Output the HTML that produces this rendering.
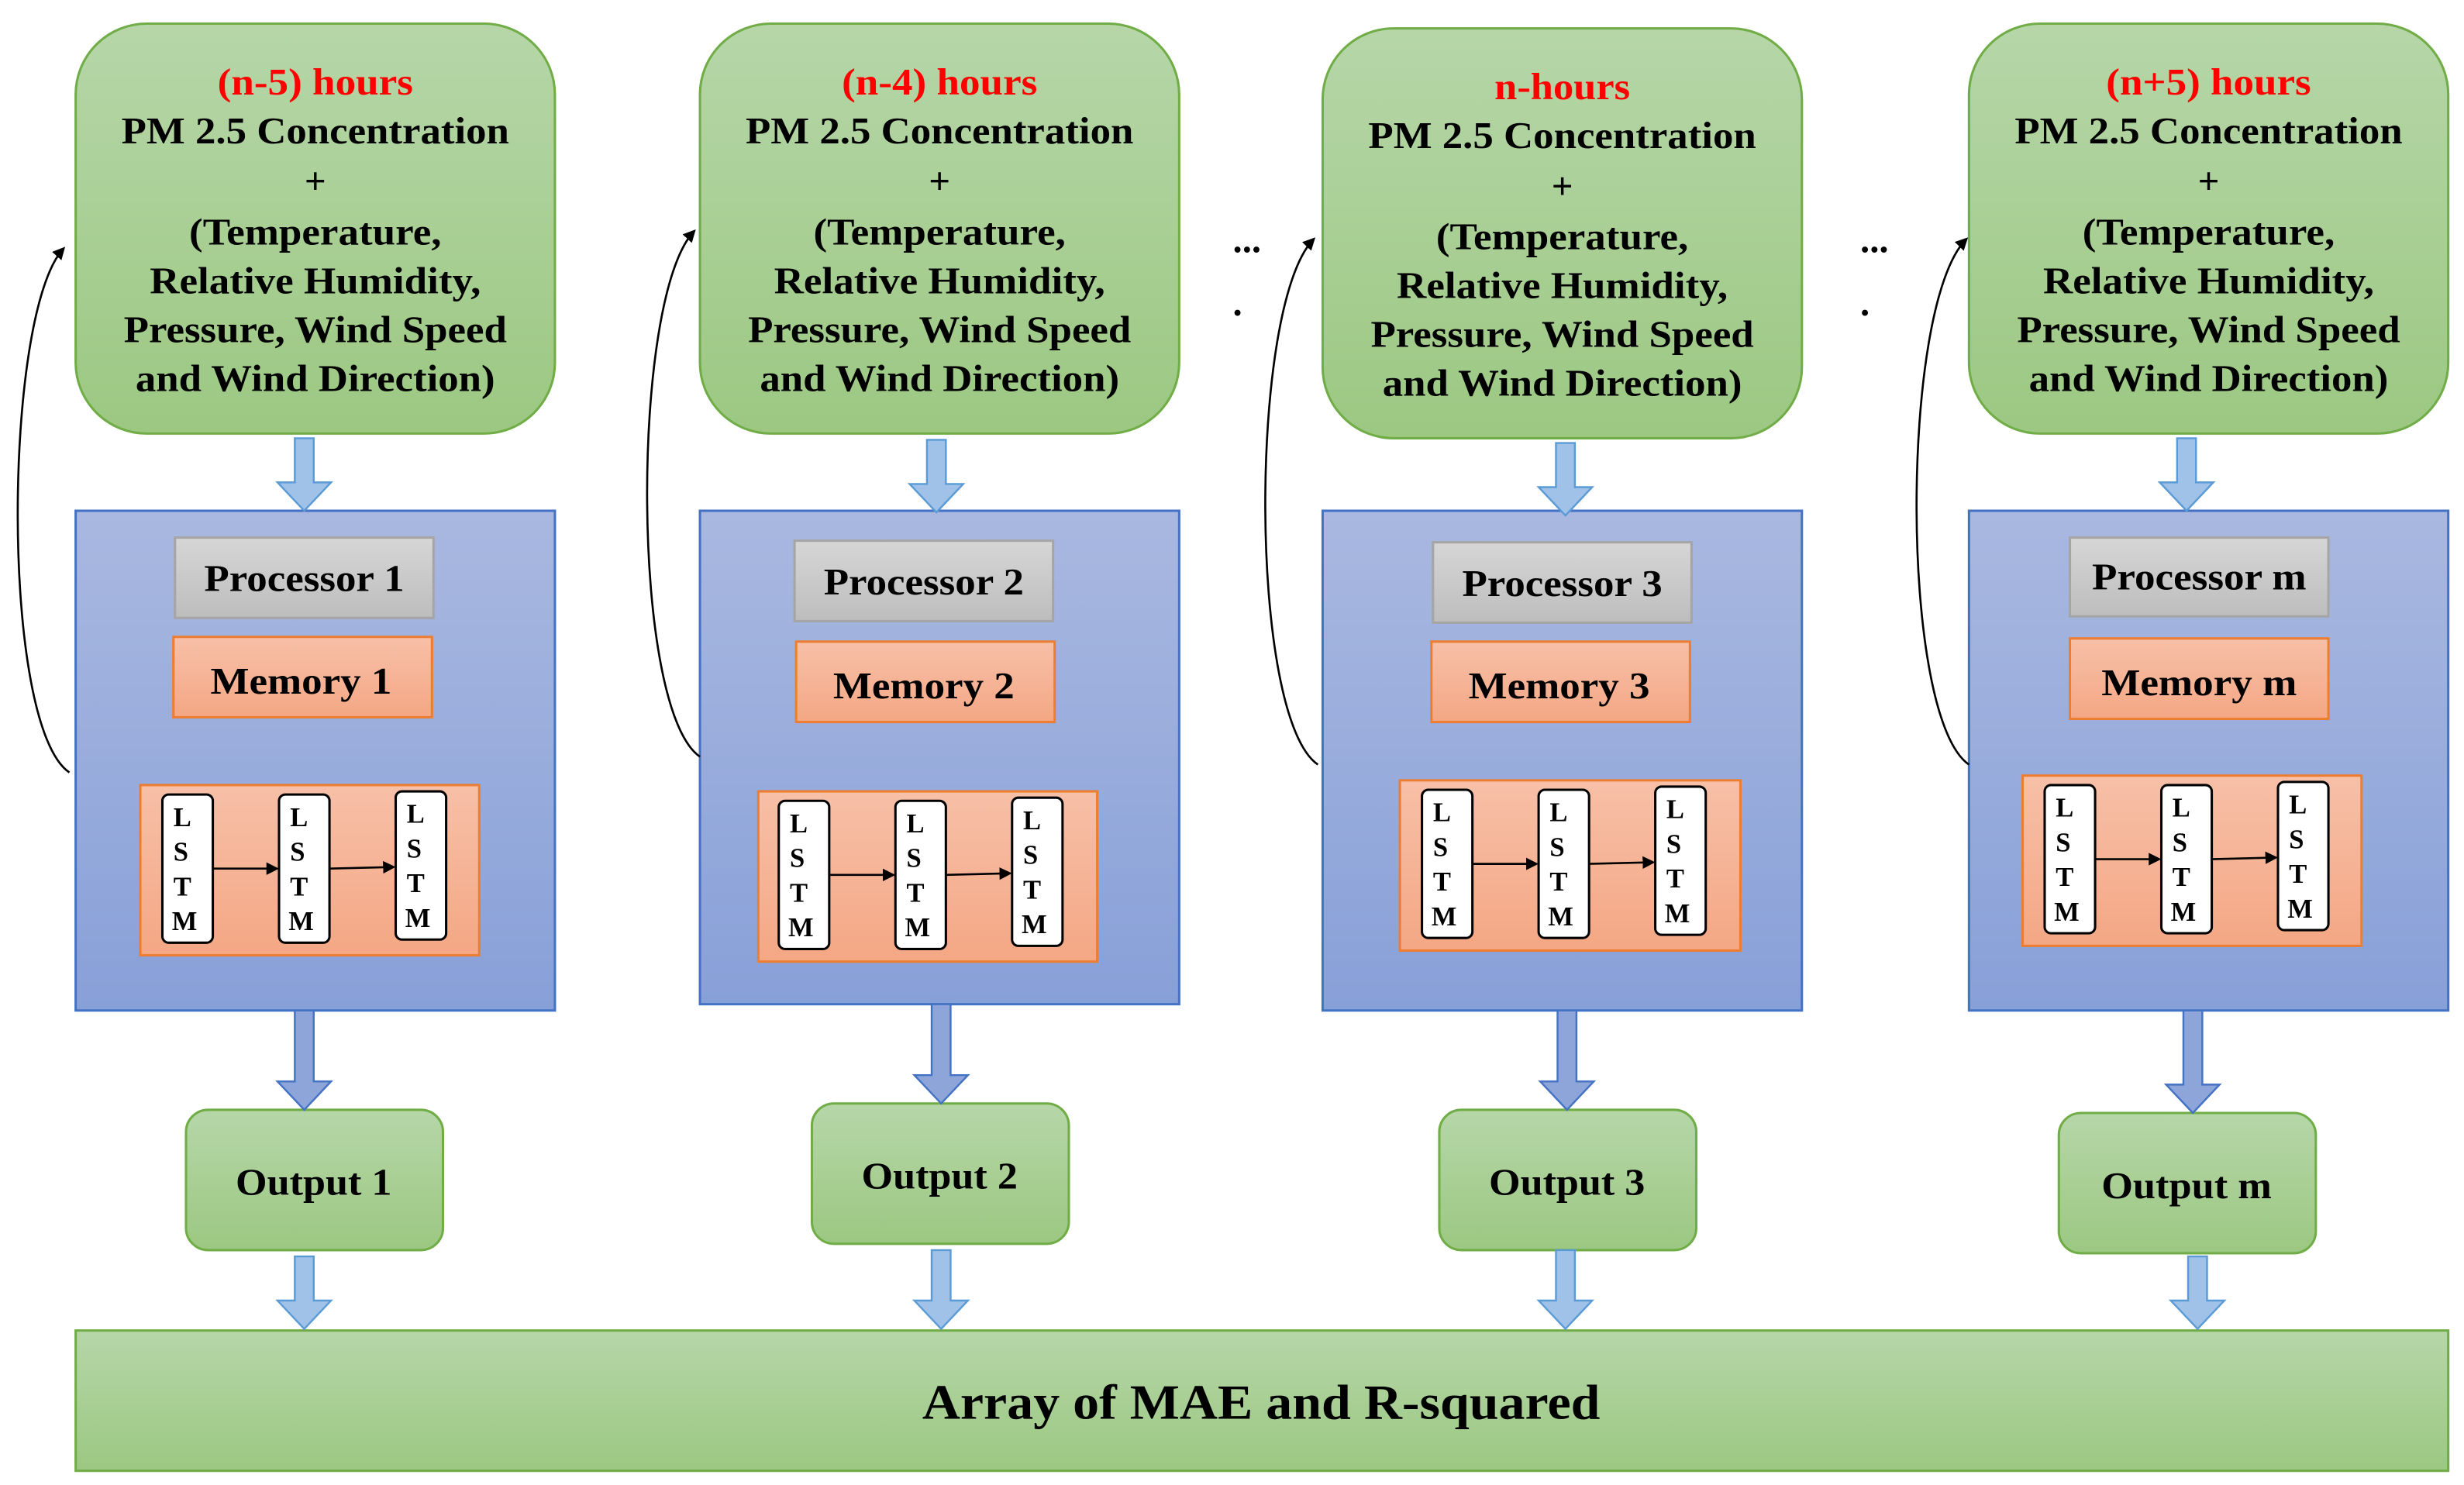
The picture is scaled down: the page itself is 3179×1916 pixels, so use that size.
<!DOCTYPE html>
<html><head><meta charset="utf-8"><style>html,body{margin:0;padding:0;background:#fff}svg{display:block}svg text{font-family:"Liberation Serif","Noto Serif CJK SC","DejaVu Serif",serif;font-weight:bold}</style></head><body>
<svg width="3179" height="1916" viewBox="0 0 1563 942" preserveAspectRatio="none" xmlns="http://www.w3.org/2000/svg" xmlns:xlink="http://www.w3.org/1999/xlink">
<defs>
<linearGradient id="g" x1="0" y1="0" x2="0" y2="1"><stop offset="0" stop-color="#b6d6a8"/><stop offset="1" stop-color="#9cc882"/></linearGradient>
<linearGradient id="b" x1="0" y1="0" x2="0" y2="1"><stop offset="0" stop-color="#a9b8e0"/><stop offset="1" stop-color="#88a0d8"/></linearGradient>
<linearGradient id="p" x1="0" y1="0" x2="0" y2="1"><stop offset="0" stop-color="#d6d6d6"/><stop offset="1" stop-color="#bdbdbd"/></linearGradient>
<linearGradient id="o" x1="0" y1="0" x2="0" y2="1"><stop offset="0" stop-color="#f7c0a8"/><stop offset="1" stop-color="#f4a784"/></linearGradient>
<marker id="ah" markerWidth="8" markerHeight="8" refX="6" refY="4" orient="auto" markerUnits="userSpaceOnUse"><path d="M0,0 L8,4 L0,8 z" fill="#000"/></marker>
<g id="t1" font-size="24" text-anchor="middle">
<text x="200" y="91" textLength="246" lengthAdjust="spacingAndGlyphs">PM 2.5 Concentration</text>
<text x="200" y="123" font-weight="normal">+</text>
<text x="200" y="155" textLength="160" lengthAdjust="spacingAndGlyphs">(Temperature,</text>
<text x="200" y="186" textLength="210" lengthAdjust="spacingAndGlyphs">Relative Humidity,</text>
<text x="200" y="217" textLength="243" lengthAdjust="spacingAndGlyphs">Pressure, Wind Speed</text>
<text x="200" y="248" textLength="228" lengthAdjust="spacingAndGlyphs">and Wind Direction)</text>
</g>
<g id="L" font-size="17">
<rect x="0" y="0" width="32" height="94" rx="4" fill="#fff" stroke="#000" stroke-width="1.5"/>
<rect x="74" y="0" width="32" height="94" rx="4" fill="#fff" stroke="#000" stroke-width="1.5"/>
<rect x="148" y="-2" width="32" height="94" rx="4" fill="#fff" stroke="#000" stroke-width="1.5"/>
<text x="7" y="20">L</text><text x="7" y="42">S</text><text x="7" y="64">T</text><text x="6" y="86">M</text>
<text x="81" y="20">L</text><text x="81" y="42">S</text><text x="81" y="64">T</text><text x="80" y="86">M</text>
<text x="155" y="18">L</text><text x="155" y="40">S</text><text x="155" y="62">T</text><text x="154" y="84">M</text>
<line x1="32" y1="47" x2="72" y2="47" stroke="#000" stroke-width="1.3" marker-end="url(#ah)"/>
<line x1="106" y1="47" x2="146" y2="46" stroke="#000" stroke-width="1.3" marker-end="url(#ah)"/>
</g>
</defs>

<rect x="48" y="15" width="304" height="260" rx="45" fill="url(#g)" stroke="#70ad47" stroke-width="1.5"/>
<rect x="444" y="15" width="304" height="260" rx="45" fill="url(#g)" stroke="#70ad47" stroke-width="1.5"/>
<rect x="839" y="18" width="304" height="260" rx="45" fill="url(#g)" stroke="#70ad47" stroke-width="1.5"/>
<rect x="1249" y="15" width="304" height="260" rx="45" fill="url(#g)" stroke="#70ad47" stroke-width="1.5"/>

<g font-size="24" text-anchor="middle">
<text x="200" y="60" fill="#ff0000" textLength="124" lengthAdjust="spacingAndGlyphs">(n-5) hours</text>
<text x="596" y="60" fill="#ff0000" textLength="124" lengthAdjust="spacingAndGlyphs">(n-4) hours</text>
<text x="991" y="63" fill="#ff0000" textLength="86" lengthAdjust="spacingAndGlyphs">n-hours</text>
<text x="1401" y="60" fill="#ff0000" textLength="130" lengthAdjust="spacingAndGlyphs">(n+5) hours</text>
</g>
<use href="#t1" xlink:href="#t1"/>
<use href="#t1" xlink:href="#t1" transform="translate(396,0)"/>
<use href="#t1" xlink:href="#t1" transform="translate(791,3)"/>
<use href="#t1" xlink:href="#t1" transform="translate(1201,0)"/>

<g>
<rect x="48" y="324" width="304" height="317" fill="url(#b)" stroke="#4472c4" stroke-width="1.5"/>
<rect x="111" y="341" width="164" height="51" fill="url(#p)" stroke="#a5a5a5" stroke-width="1.5"/>
<text x="193" y="375" text-anchor="middle" font-size="24" textLength="127" lengthAdjust="spacingAndGlyphs">Processor 1</text>
<rect x="110" y="404" width="164" height="51" fill="url(#o)" stroke="#ed7d31" stroke-width="1.5"/>
<text x="191" y="440" text-anchor="middle" font-size="24" textLength="115" lengthAdjust="spacingAndGlyphs">Memory 1</text>
<rect x="89" y="498" width="215" height="108" fill="url(#o)" stroke="#ed7d31" stroke-width="1.5"/>

<rect x="444" y="324" width="304" height="313" fill="url(#b)" stroke="#4472c4" stroke-width="1.5"/>
<rect x="504" y="343" width="164" height="51" fill="url(#p)" stroke="#a5a5a5" stroke-width="1.5"/>
<text x="586" y="377" text-anchor="middle" font-size="24" textLength="127" lengthAdjust="spacingAndGlyphs">Processor 2</text>
<rect x="505" y="407" width="164" height="51" fill="url(#o)" stroke="#ed7d31" stroke-width="1.5"/>
<text x="586" y="443" text-anchor="middle" font-size="24" textLength="115" lengthAdjust="spacingAndGlyphs">Memory 2</text>
<rect x="481" y="502" width="215" height="108" fill="url(#o)" stroke="#ed7d31" stroke-width="1.5"/>

<rect x="839" y="324" width="304" height="317" fill="url(#b)" stroke="#4472c4" stroke-width="1.5"/>
<rect x="909" y="344" width="164" height="51" fill="url(#p)" stroke="#a5a5a5" stroke-width="1.5"/>
<text x="991" y="378" text-anchor="middle" font-size="24" textLength="127" lengthAdjust="spacingAndGlyphs">Processor 3</text>
<rect x="908" y="407" width="164" height="51" fill="url(#o)" stroke="#ed7d31" stroke-width="1.5"/>
<text x="989" y="443" text-anchor="middle" font-size="24" textLength="115" lengthAdjust="spacingAndGlyphs">Memory 3</text>
<rect x="888" y="495" width="216" height="108" fill="url(#o)" stroke="#ed7d31" stroke-width="1.5"/>

<rect x="1249" y="324" width="304" height="317" fill="url(#b)" stroke="#4472c4" stroke-width="1.5"/>
<rect x="1313" y="341" width="164" height="50" fill="url(#p)" stroke="#a5a5a5" stroke-width="1.5"/>
<text x="1395" y="374" text-anchor="middle" font-size="24" textLength="136" lengthAdjust="spacingAndGlyphs">Processor m</text>
<rect x="1313" y="405" width="164" height="51" fill="url(#o)" stroke="#ed7d31" stroke-width="1.5"/>
<text x="1395" y="441" text-anchor="middle" font-size="24" textLength="124" lengthAdjust="spacingAndGlyphs">Memory m</text>
<rect x="1283" y="492" width="215" height="108" fill="url(#o)" stroke="#ed7d31" stroke-width="1.5"/>
</g>

<use href="#L" xlink:href="#L" transform="translate(103,504)"/>
<use href="#L" xlink:href="#L" transform="translate(494,508)"/>
<use href="#L" xlink:href="#L" transform="translate(902,501)"/>
<use href="#L" xlink:href="#L" transform="translate(1297,498)"/>

<g font-size="24" text-anchor="middle">
<rect x="118" y="704" width="163" height="89" rx="14" fill="url(#g)" stroke="#70ad47" stroke-width="1.5"/>
<text x="199" y="758" textLength="99" lengthAdjust="spacingAndGlyphs">Output 1</text>
<rect x="515" y="700" width="163" height="89" rx="14" fill="url(#g)" stroke="#70ad47" stroke-width="1.5"/>
<text x="596" y="754" textLength="99" lengthAdjust="spacingAndGlyphs">Output 2</text>
<rect x="913" y="704" width="163" height="89" rx="14" fill="url(#g)" stroke="#70ad47" stroke-width="1.5"/>
<text x="994" y="758" textLength="99" lengthAdjust="spacingAndGlyphs">Output 3</text>
<rect x="1306" y="706" width="163" height="89" rx="14" fill="url(#g)" stroke="#70ad47" stroke-width="1.5"/>
<text x="1387" y="760" textLength="108" lengthAdjust="spacingAndGlyphs">Output m</text>
<rect x="48" y="844" width="1505" height="89" fill="url(#g)" stroke="#70ad47" stroke-width="1.5"/>
<text x="800" y="900" font-size="31" textLength="430" lengthAdjust="spacingAndGlyphs">Array of MAE and R-squared</text>
</g>

<g fill="#a0c2e8" stroke="#5b9bd5" stroke-width="1.2">
<path d="M187,278 h12 v28 h11 l-17,18 l-17,-18 h11 z"/>
<path d="M588,279 h12 v28 h11 l-17,18 l-17,-18 h11 z"/>
<path d="M987,281 h12 v28 h11 l-17,18 l-17,-18 h11 z"/>
<path d="M1381,278 h12 v28 h11 l-17,18 l-17,-18 h11 z"/>
<path d="M187,797 h12 v28 h11 l-17,18 l-17,-18 h11 z"/>
<path d="M591,793 h12 v32 h11 l-17,18 l-17,-18 h11 z"/>
<path d="M987,793 h12 v32 h11 l-17,18 l-17,-18 h11 z"/>
<path d="M1388,797 h12 v28 h11 l-17,18 l-17,-18 h11 z"/>
</g>
<g fill="#8ea5da" stroke="#4472c4" stroke-width="1.2">
<path d="M187,641 h12 v45 h11 l-17,18 l-17,-18 h11 z"/>
<path d="M591,637 h12 v45 h11 l-17,18 l-17,-18 h11 z"/>
<path d="M988,641 h12 v45 h11 l-17,18 l-17,-18 h11 z"/>
<path d="M1385,641 h12 v47 h11 l-17,18 l-17,-18 h11 z"/>
</g>

<g fill="none" stroke="#000" stroke-width="1.3">
<path d="M44,490 C0,460 2,200 40,158" marker-end="url(#ah)"/>
<path d="M444,480 C400,450 400,190 440,147" marker-end="url(#ah)"/>
<path d="M836,485 C792,455 792,195 833,152" marker-end="url(#ah)"/>
<path d="M1249,485 C1205,455 1205,195 1247,152" marker-end="url(#ah)"/>
</g>

<g font-size="24">
<text x="782" y="160">...</text><text x="782" y="200">.</text>
<text x="1180" y="160">...</text><text x="1180" y="200">.</text>
</g>
</svg>
</body></html>
